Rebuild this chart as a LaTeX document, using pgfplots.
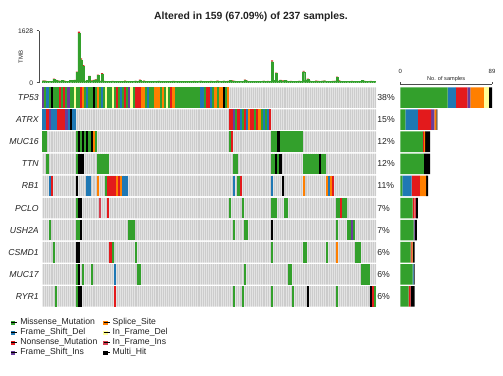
\documentclass[border=0pt]{standalone}
\usepackage{pgfplots}
\usepackage{pgfplotstable}
\pgfplotsset{compat=1.18}
\usepackage{fontspec}
\setmainfont{Liberation Sans}
\definecolor{cG}{HTML}{33A02C}
\definecolor{cB}{HTML}{1F78B4}
\definecolor{cR}{HTML}{E31A1C}
\definecolor{cP}{HTML}{6A3D9A}
\definecolor{cO}{HTML}{FF7F00}
\definecolor{cY}{HTML}{FFFF99}
\definecolor{cI}{HTML}{D53E4F}
\definecolor{cK}{HTML}{000000}
\definecolor{cBg}{HTML}{CCCCCC}
\definecolor{cTxt}{HTML}{222222}

\pgfplotstableread{
n g r
1 64 8
2 60 7
3 48 6
4 44 6
5 38 6
6 115 15
7 80 10
8 66 8
9 55 7
10 70 9
11 60 7
12 48 6
13 44 6
14 70 9
15 70 9
16 78 10
17 320 30
18 1540 60
19 720 40
20 520 30
21 55 7
22 70 9
23 195 20
24 62 8
25 78 10
26 97 13
27 230 20
28 55 7
29 275 25
30 52 7
31 48 6
32 44 6
33 48 6
34 52 7
35 44 6
36 48 6
37 40 5
38 48 6
39 44 6
40 58 7
41 48 6
42 44 6
43 48 6
44 44 6
45 55 7
46 48 6
47 85 10
48 44 6
49 58 7
50 48 6
51 40 5
52 44 6
53 48 6
54 40 5
55 44 6
56 52 7
57 40 5
58 44 6
59 48 6
60 44 6
61 40 5
62 48 6
63 52 7
64 44 6
65 40 5
66 44 6
67 48 6
68 40 5
69 44 6
70 48 6
71 40 5
72 44 6
73 52 7
74 48 6
75 44 6
76 55 7
77 48 6
78 40 5
79 48 6
80 44 6
81 52 7
82 48 6
83 44 6
84 58 7
85 48 6
86 44 6
87 55 7
88 48 6
89 52 7
90 70 9
91 62 8
92 55 7
93 48 6
94 44 6
95 40 5
96 48 6
97 88 12
98 58 7
99 48 6
100 44 6
101 40 5
102 48 6
103 44 6
104 40 5
105 48 6
106 55 7
107 44 6
108 52 7
109 48 6
110 660 40
111 70 9
112 295 25
113 55 7
114 80 10
115 62 8
116 70 10
117 55 7
118 48 6
119 52 7
120 44 6
121 48 6
122 40 5
123 55 7
124 48 6
125 345 25
126 70 9
127 115 15
128 55 7
129 48 6
130 44 6
131 58 7
132 52 7
133 48 6
134 55 7
135 66 8
136 48 6
137 44 6
138 48 6
139 52 7
140 55 7
141 175 15
142 62 8
143 48 6
144 44 6
145 40 5
146 48 6
147 44 6
148 52 7
149 48 6
150 44 6
151 40 5
152 48 6
153 70 9
154 55 7
155 44 6
156 48 6
157 52 7
158 44 6
159 48 6
}\tmbtable

\pgfplotsset{
  cell/.style={only marks, mark=|, mark size=7.7pt, color=#1, mark options={line width=1.6pt}, forget plot},
  lsq/.style={legend image code/.code={\fill[#1] (0pt,-1.2pt) rectangle (2.4pt,1.2pt); \path (0pt,0pt) -- (4.6pt,0pt);}},
}

\begin{document}
\begin{tikzpicture}[x=1pt,y=1pt]
\useasboundingbox (0,0) rectangle (377.25,281.25);
\node[font=\bfseries\fontsize{7.8}{9}\selectfont, text=cTxt] at (188.25,268.3) {Altered in 159 (67.09\%) of 237 samples.};

% ---------- TMB panel ----------
\begin{axis}[at={(29.475pt,219.2pt)}, anchor=south west, scale only axis,
  width=252.5pt, height=39pt,
  xmin=-0.93, xmax=159.5, ymin=0, ymax=1628,
  axis x line=none, axis y line*=left,
  y axis line style={line width=0.45pt, draw=black!70},
  ytick={0,1628}, yticklabels={0,1628},
  tick align=outside, major tick length=2pt,
  ytick style={line width=0.45pt, draw=black!70},
  yticklabel style={font=\fontsize{5}{6}\selectfont, text=cTxt, inner sep=0pt, xshift=-2.5pt},
  ylabel={TMB},
  ylabel style={font=\fontsize{4.5}{5}\selectfont, text=cTxt, at={(axis description cs:-0.055,0.5)}, anchor=center},
  ybar stacked, bar width=1.0,
]
\addplot[fill=cG, draw=cG, line width=0.15pt] table[x=n, y=g] {\tmbtable};
\addplot[fill=cR, draw=none] table[x=n, y=r] {\tmbtable};
\end{axis}

% ---------- Oncoplot matrix ----------
\begin{axis}[at={(31.725pt,50.625pt)}, anchor=south west, scale only axis,
  width=250.3pt, height=165.75pt,
  xmin=0.5, xmax=159.5, ymin=0.5, ymax=10.5,
  axis line style={draw=none},
  xtick={0.5,1.5,...,159.5}, xticklabels={},
  xmajorgrids=true,
  major x grid style={white, line width=0.3pt, opacity=0.45},
  ytick={1,...,10},
  yticklabels={RYR1,MUC17,CSMD1,USH2A,PCLO,RB1,TTN,MUC16,ATRX,TP53},
  yticklabel style={font=\fontsize{6.5}{7}\selectfont\itshape, text=cTxt, inner sep=0pt, xshift=-2.5pt},
  major tick length=0pt,
  axis on top,
  legend columns=2,
  legend style={at={(axis description cs:-0.094,-0.045)}, anchor=north west,
    draw=none, fill=none, inner sep=0pt, outer sep=0pt,
    font=\fontsize{6.5}{7}\selectfont, text=cTxt,
    legend cell align=left, row sep=0pt,
    nodes={text height=4.8pt, text depth=1.5pt, inner ysep=0.6pt},
    /tikz/every even column/.append style={column sep=2.5pt}},
]
\addplot[xbar, bar shift=0pt, bar width=0.93, fill=cBg, draw=none, forget plot]
  coordinates {(159.5,1) (159.5,2) (159.5,3) (159.5,4) (159.5,5) (159.5,6) (159.5,7) (159.5,8) (159.5,9) (159.5,10)};
% Missense_Mutation
\addplot[cell=cG] coordinates {
(2,10) (4,10) (6,10) (7,10) (8,10) (10,10) (12,10) (14,10) (15,10) (17,10) (18,10) (21,10) (23,10) (24,10) (26,10) (28,10) (30,10) (32,10) (33,10) (35,10) (37,10) (39,10) (41,10) (44,10) (50,10) (52,10) (53,10) (57,10) (59,10) (61,10) (64,10) (65,10) (66,10) (67,10) (68,10) (69,10) (70,10) (71,10) (72,10) (73,10) (74,10) (75,10) (78,10) (82,10) (84,10) (88,10)
(93,9) (96,9) (102,9) (105,9) (107,9)
(1,8) (2,8) (17,8) (19,8) (21,8) (23,8) (26,8) (90,8) (110,8) (111,8) (112,8) (114,8) (115,8) (116,8) (117,8) (118,8) (119,8) (120,8) (121,8) (122,8) (123,8) (124,8)
(3,7) (17,7) (27,7) (28,7) (29,7) (30,7) (31,7) (32,7) (92,7) (93,7) (110,7) (111,7) (113,7) (125,7) (126,7) (127,7) (128,7) (129,7) (130,7) (131,7) (132,7) (134,7) (135,7)
(31,6) (94,6)
(17,5) (90,5) (96,5) (110,5) (111,5) (112,5) (116,5) (117,5) (141,5) (142,5) (144,5) (145,5)
(4,4) (17,4) (18,4) (42,4) (43,4) (44,4) (92,4) (97,4) (98,4) (141,4) (146,4) (147,4) (149,4)
(6,3) (34,3) (45,3) (110,3) (125,3) (126,3) (136,3) (150,3) (151,3) (152,3)
(17,2) (20,2) (24,2) (46,2) (47,2) (97,2) (118,2) (119,2) (153,2) (154,2) (155,2) (156,2)
(7,1) (17,1) (92,1) (96,1) (110,1) (120,1) (141,1) (159,1)
};
% Frame_Shift_Del
\addplot[cell=cB] coordinates {
(3,10) (22,10) (29,10) (38,10) (51,10) (76,10) (77,10) (81,10)
(1,9) (2,9) (5,9) (6,9) (7,9) (13,9) (15,9) (16,9) (95,9) (98,9) (106,9) (108,9)
(4,6) (22,6) (23,6) (39,6) (40,6) (41,6) (92,6) (110,6) (137,6)
(35,2)
};
% Nonsense_Mutation
\addplot[cell=cR] coordinates {
(9,10) (11,10) (19,10) (36,10) (40,10) (45,10) (46,10) (47,10) (62,10) (79,10) (80,10)
(3,9) (8,9) (9,9) (10,9) (11,9) (90,9) (91,9) (94,9) (97,9) (100,9) (101,9) (103,9) (109,9)
(91,8)
(5,6) (32,6) (33,6) (34,6) (35,6) (37,6) (95,6) (139,6)
(32,5) (143,5)
(33,3)
(35,1) (158,1)
};
% Frame_Shift_Ins
\addplot[cell=cP] coordinates {
(1,10) (13,10) (42,10)
(4,9) (12,9) (92,9)
(148,4)
};
% Splice_Site
\addplot[cell=cO] coordinates {
(20,10) (27,10) (48,10) (49,10) (54,10) (55,10) (56,10) (58,10) (63,10) (83,10) (85,10) (86,10) (89,10)
(99,9) (104,9)
(25,8)
(27,6) (36,6) (38,6) (125,6) (136,6) (138,6)
(141,3)
};
% In_Frame_Del
\addplot[cell=cY] coordinates {
(16,10) (31,10) (34,10) (43,10) (60,10)
};
% In_Frame_Ins
\addplot[cell=cI] coordinates {
(28,5)
};
% Multi_Hit
\addplot[cell=cK] coordinates {
(5,10) (25,10) (87,10)
(14,9)
(18,8) (20,8) (22,8) (24,8) (113,8)
(18,7) (19,7) (20,7) (112,7) (114,7) (133,7)
(17,6) (115,6)
(18,5) (19,5)
(19,4) (110,4)
(17,3) (18,3)
(18,2)
(18,1) (19,1) (127,1) (157,1)
};
\addlegendimage{lsq=cG}\addlegendentry{Missense\_Mutation}
\addlegendimage{lsq=cO}\addlegendentry{Splice\_Site}
\addlegendimage{lsq=cB}\addlegendentry{Frame\_Shift\_Del}
\addlegendimage{lsq=cY}\addlegendentry{In\_Frame\_Del}
\addlegendimage{lsq=cR}\addlegendentry{Nonsense\_Mutation}
\addlegendimage{lsq=cI}\addlegendentry{In\_Frame\_Ins}
\addlegendimage{lsq=cP}\addlegendentry{Frame\_Shift\_Ins}
\addlegendimage{lsq=cK}\addlegendentry{Multi\_Hit}
\end{axis}

% ---------- percentage labels ----------
\begin{axis}[at={(31.725pt,50.625pt)}, anchor=south west, scale only axis,
  width=250.3pt, height=165.75pt,
  xmin=0.5, xmax=159.5, ymin=0.5, ymax=10.5,
  axis x line=none, axis y line*=right,
  y axis line style={draw=none},
  ytick={1,...,10},
  yticklabels={6\%,6\%,6\%,7\%,7\%,11\%,12\%,12\%,15\%,38\%},
  major tick length=0pt,
  yticklabel style={font=\fontsize{6.5}{7}\selectfont, text=cTxt, inner sep=0pt, xshift=0.8pt},
]
\end{axis}

% ---------- right bar panel ----------
\begin{axis}[at={(300.2pt,50.625pt)}, anchor=south west, scale only axis,
  width=68.8pt, height=167.4pt,
  xmin=0, xmax=89, ymin=0.5, ymax=10.6,
  xbar stacked, bar width=0.93,
  axis x line*=top, axis y line=none,
  x axis line style={line width=0.45pt, draw=black!70},
  xtick={0,89}, xticklabels={0,89},
  tick align=outside, major tick length=1.7pt,
  xtick style={line width=0.45pt, draw=black!70},
  xticklabel style={font=\fontsize{4.5}{5}\selectfont, text=cTxt, yshift=3pt},
  xlabel={No. of samples},
  xlabel style={font=\fontsize{4.2}{5}\selectfont, text=cTxt, at={(axis description cs:0.5,1)}, anchor=center, yshift=4pt},
]
\addplot[fill=cG, draw=none] coordinates {(8,1) (12,2) (10,3) (13,4) (12,5) (2,6) (23,7) (22,8) (5,9) (46,10)};
\addplot[fill=cB, draw=none] coordinates {(0,1) (1,2) (0,3) (0,4) (0,5) (9,6) (0,7) (0,8) (12,9) (8,10)};
\addplot[fill=cR, draw=none] coordinates {(2,1) (0,2) (1,3) (0,4) (2,5) (8,6) (0,7) (1,8) (13,9) (11,10)};
\addplot[fill=cP, draw=none] coordinates {(0,1) (0,2) (0,3) (1,4) (0,5) (0,6) (0,7) (0,8) (3,9) (3,10)};
\addplot[fill=cO, draw=none] coordinates {(0,1) (0,2) (1,3) (0,4) (0,5) (6,6) (0,7) (1,8) (2,9) (13,10)};
\addplot[fill=cY, draw=none] coordinates {(0,1) (0,2) (0,3) (0,4) (0,5) (0,6) (0,7) (0,8) (0,9) (5,10)};
\addplot[fill=cI, draw=none] coordinates {(0,1) (0,2) (0,3) (0,4) (1,5) (0,6) (0,7) (0,8) (0,9) (0,10)};
\addplot[fill=cK, draw=none] coordinates {(4,1) (1,2) (2,3) (2,4) (2,5) (2,6) (6,7) (5,8) (1,9) (3,10)};
\end{axis}
\end{tikzpicture}
\end{document}
